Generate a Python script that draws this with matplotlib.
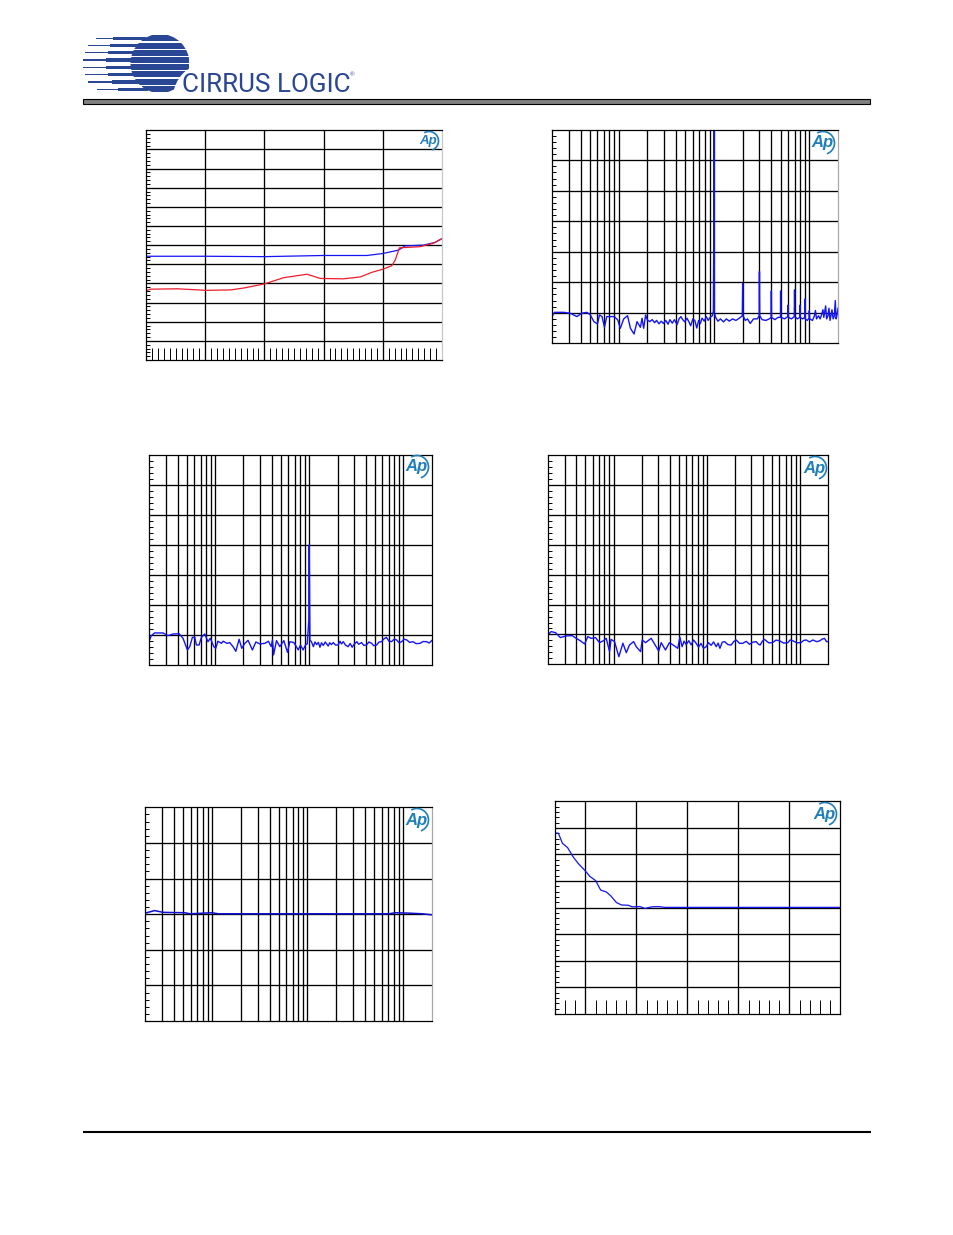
import matplotlib
matplotlib.use("Agg")
import matplotlib.pyplot as plt
from matplotlib.patches import Arc, Circle, Rectangle

W, H = 954, 1235
BLUE = "#1414f5"
RED = "#f01c2c"
LOGO_BLUE = "#2a4795"
AP_BLUE = "#1f7fb8"

# THD+N vs level
level_blue_x = [-100, -79.8, -59.9, -40, -25.4, -20.1, -14.7, -12.5, -6.3, -2.4, 0]
level_blue_y = [-82.9, -82.9, -83.0, -82.7, -82.7, -82.2, -81.3, -80.2, -80.0, -79.3, -78.3]
level_red_x = [-100, -98.4, -89.4, -79.8, -71.5, -67, -59.9, -53.5, -45.6, -41.1,
               -33.3, -27.6, -23.7, -20.1, -17, -15.8, -14.4, -7.4, -2.9, 0]
level_red_y = [-91.9, -91.5, -91.4, -91.8, -91.7, -91.2, -90.1, -88.5, -87.6, -88.7,
               -88.8, -88.3, -87.1, -86.3, -85.4, -83.9, -80.7, -80.4, -79.5, -78.3]

# FFT at 0 dB input
fft0_f = [20, 21.2, 26.5, 31, 36.5, 41, 46.5, 50.5, 55, 60, 63, 67, 71, 75, 82, 90, 98, 104,
          113, 124, 133, 145, 156, 169, 176, 183, 192, 200, 212, 225, 238, 250, 265, 280,
          295, 312, 330, 345, 365, 385, 410, 430, 450, 470, 495, 520, 545, 570, 600, 630,
          660, 690, 720, 750, 790, 830, 870, 910, 960, 985, 995, 1000, 1005, 1010, 1040, 1100, 1170,
          1260, 1350, 1450, 1560, 1700, 1850, 1980, 2000, 2020, 2130, 2250, 2400, 2600,
          2850, 2980, 3000, 3020, 3200, 3500, 3800, 3980, 4000, 4020, 4350, 4700, 4980,
          5000, 5020, 5500, 5950, 6000, 6050, 6500, 6950, 7000, 7050, 7500, 7950, 8000,
          8050, 8500, 8950, 9000, 9050, 9500, 9950, 10000, 10100, 10800, 11300, 11600,
          11900, 12500, 13000, 13500, 13900, 14200, 14840, 15200, 15700, 16080, 16500,
          17290, 17800, 18300, 18730, 19100, 19600, 20000]
fft0_db = [-122.5, -119.7, -119.7, -120.3, -122.5, -120.3, -119.7, -121.4, -125.8, -127.3,
           -121.4, -122.5, -129.5, -122.5, -122.5, -122.5, -124.7, -130.2, -124, -121.9,
           -130.2, -133.9, -125.8, -129.5, -123.6, -130.2, -121.4, -124.7, -125.8, -124.5,
           -126.5, -125, -127.2, -125.5, -127, -125, -127.5, -124.5, -126.8, -124.5, -127.8,
           -124, -122.5, -124.5, -126, -123.5, -125.8, -128.5, -124, -125, -130, -125, -127,
           -123.5, -125.5, -122.5, -125, -123, -122, -119, -70, 0, -70, -120, -123, -125.5, -124, -126,
           -124, -125.5, -124, -125, -123.5, -122, -100.7, -122, -125, -124, -127, -124,
           -124, -122, -93, -122, -124.5, -125, -124, -123, -105.7, -123, -124.5, -123,
           -123, -105.7, -123, -124, -122.5, -115, -123, -124, -122.5, -105, -122.5, -124,
           -123, -115, -123, -124, -123, -111, -124, -125, -123.5, -118.6, -124, -125, -122,
           -118.5, -124, -122, -124, -121, -118, -123, -115.5, -124, -122, -117, -125, -118,
           -124, -122, -112, -124, -121, -117]

# FFT at -60 dB input
fft60_f = [20, 21, 22.8, 28, 31.6, 35.7, 41.4, 45.6, 50.8, 53.8, 57.4, 60.8, 63.3, 67.6, 71.5,
           77.6, 84, 89, 96.8, 101.6, 107, 116.8, 121.6, 134, 143, 155, 166, 180, 192, 207,
           224, 249, 271, 299, 337, 369, 394, 407, 418, 449, 487, 537, 588, 622, 687, 764,
           808, 862, 913, 952, 990, 1000, 1010, 1017,
           1055, 1107, 1150, 1200, 1250, 1300, 1350, 1410, 1480, 1590, 1650, 1720, 1800, 1900,
           2030, 2120, 2200, 2300, 2420, 2590, 2720, 2860, 3000, 3200, 3350, 3600, 3800, 4060,
           4300, 4600, 4850, 5200, 5500, 5870, 6200, 6600, 7000, 7500, 8000, 8500, 9000, 9600,
           10200, 10900, 11700, 12600, 13700, 15000, 16200, 17700, 18800, 20000]
fft60_db = [-123.6, -120.3, -118.5, -118.5, -120.3, -119.2, -119, -122, -129.8, -127.6, -121.4,
            -121.4, -126.5, -126.5, -121.4, -119.2, -124.3, -122, -127.6, -128.7, -124, -125.4,
            -124, -125.4, -124.9, -127.6, -130.7, -122.7, -128.7, -125.4, -123.4, -129.8,
            -124.5, -125.8, -125.4, -124, -127.6, -123.2, -133.1, -123.6, -127.6, -123.6,
            -131.4, -124.3, -124.9, -129.8, -126.5, -129.8, -126.5, -125.8, -110, -60, -100,
            -123.2,
            -124.3, -127.6, -124.5, -126.2, -124.8, -128, -125, -126.8, -124.5, -127.2, -125,
            -126.2, -124.9, -126.5, -126.5, -124, -125.8, -124.3, -126.5, -127.6, -125.5, -128,
            -126, -124.3, -126, -124.9, -126.8, -126.5, -124.5, -125.4, -127, -126.5, -124.6,
            -124.3, -122.5, -121.4, -123.8, -124.3, -122.5, -123.2, -125, -124.3, -122.6,
            -123.2, -124.8, -124.3, -125.6, -125.4, -124.2, -124.3, -125.2, -123.6]

# FFT with no input
fftn_f = [20, 21.5, 23.9, 26.9, 31, 36, 39.8, 44, 49, 53, 57.6, 64, 70.8, 78, 83.5, 90.6, 94,
          102.5, 114, 126, 137, 148, 164, 175, 195, 203, 220, 253, 286, 305, 324, 360, 397,
          450, 487, 514, 543,
          570, 600, 640, 679, 720, 767, 815, 866, 920, 982, 1040, 1110, 1180, 1260, 1320, 1380,
          1460, 1550, 1680, 1820, 1940, 2060, 2240, 2430, 2640, 2860, 3100, 3370, 3550, 3720,
          3920, 4140, 4600, 5060, 5500, 5990, 6650, 7370, 7800, 8300, 9200, 10200, 10900, 11600,
          12600, 13700, 14900, 16100, 17100, 18200, 19100, 20000]
fftn_db = [-119.9, -118.1, -118.8, -122.1, -121, -120.8, -122.6, -124.2, -126.4, -121.5, -122.6,
           -122.1, -125.5, -124.2, -122.6, -131.5, -123.3, -124.8, -134.9, -125.9, -132.2,
           -127.1, -124.8, -128.2, -131.5, -123.7, -125.5, -122.6, -128.2, -131.1, -125.5,
           -130.4, -125.5, -127.7, -129.3, -121.9, -128.2,
           -124.5, -126.8, -124.2, -127, -123.7, -125.9, -128.5, -126, -129.3, -128.2, -125.5,
           -127.3, -125, -128.2, -125.8, -129.3, -125.2, -124.8, -126.8, -127.1, -124.8, -123.7,
           -126, -125.9, -124.6, -126.6, -125.2, -124.8, -126.4, -127.1, -124.6, -123.3, -125.6,
           -125.5, -123.8, -124.2, -125.8, -125.5, -123.7, -124.2, -125.6, -125.5, -124, -123.7,
           -125, -123.7, -124.8, -124.4, -123.2, -122.6, -124.8, -124.8]

# frequency response
resp_f = [20, 25, 30.8, 52, 59, 100, 116, 7100, 8300, 11200, 16000, 20000]
resp_db = [0.003, 0.010, 0.005, 0.004, 0.001, 0.004, 0.001, 0.001, 0.004, 0.003, 0.001, -0.002]

# stopband / settling trace
settle_x = [0.41, 0.47, 0.55, 0.65, 0.76, 0.86, 1, 1.09, 1.2, 1.3, 1.41, 1.5, 1.61, 1.71, 1.84,
            1.92, 2.07, 2.17, 2.3, 2.43, 2.56, 6]
settle_y = [2.81, 2.8, 2.42, 2.26, 1.91, 1.66, 1.38, 1.17, 1.02, 0.66, 0.59, 0.44, 0.19, 0.1,
            0.09, 0.03, 0.04, -0.03, 0.03, 0.04, 0.01, 0.01]

log_grid = [30, 40, 50, 60, 70, 80, 90, 100, 200, 300, 400, 500, 600, 700, 800, 900, 1000,
            2000, 3000, 4000, 5000, 6000, 7000, 8000, 9000, 10000]


def panel(fig, left, top, right, bottom):
    ax = fig.add_axes([left / W, 1 - bottom / H, (right - left) / W, (bottom - top) / H])
    ax.set_axisbelow(True)
    for s in ax.spines.values():
        s.set_linewidth(0.9)
    ax.grid(True, which="major", color="black", lw=0.95)
    ax.tick_params(which="major", length=0, labelbottom=False, labelleft=False)
    ax.tick_params(which="minor", direction="in", length=2.6, width=0.7,
                   labelbottom=False, labelleft=False)
    return ax


def y_axis(ax, low, high, step, minor):
    ax.set_ylim(low, high)
    n = round((high - low) / step)
    ax.set_yticks([low + i * step for i in range(1, n)])
    m = round((high - low) / minor)
    ax.set_yticks([low + i * minor for i in range(1, m) if i * minor % step > 1e-6
                   and step - i * minor % step > 1e-6], minor=True)


def log_axis(ax):
    ax.set_xscale("log")
    ax.set_xlim(20, 20000)
    ax.set_xticks(log_grid)
    ax.set_xticks([], minor=True)


def ap_logo(page, x, y, size, r):
    page.text(x - 1, y, "Ap", color=AP_BLUE, fontsize=size, style="italic", weight="bold",
              family="Liberation Sans", ha="center", va="center")
    page.add_patch(Arc((x, y), 2 * r, 2 * r, theta1=-120, theta2=70, color=AP_BLUE, lw=1.2))


def cirrus_logo(page):
    cx, cy, r = 160, 63.5, 29.5
    rows = [38.3, 45.7, 52.7, 60, 67.3, 74.3, 82, 89.3]
    starts = [96, 88, 85, 83, 83, 85, 88, 97]
    thick = [140, 132, 129, 128, 128, 129, 134, 142]
    mids = [113, 110, 108, 106, 106, 108, 112, 118]
    disc = Circle((cx, cy), r, transform=page.transData)
    for y, x0, x1, x2 in zip(rows, starts, mids, thick):
        page.add_patch(Rectangle((x0, y - 0.7), x1 - x0, 1.4, fc=LOGO_BLUE, ec="none"))
        page.add_patch(Rectangle((x1, y - 1.7), x2 - x1 + 6, 3.4, fc=LOGO_BLUE, ec="none"))
        bar = Rectangle((x2, y - 3.1), cx + r - x2, 6.2, fc=LOGO_BLUE, ec="none")
        page.add_patch(bar)
        bar.set_clip_path(disc)
    wedge = Circle((208, 98), 35, fc="white", ec="none")
    page.add_patch(wedge)
    wedge.set_clip_path(Rectangle((170, 60), 60, 38, transform=page.transData))
    page.text(182.5, 91.5, "CIRRUS LOGIC", color=LOGO_BLUE, fontsize=18.7, family="Roboto",
              ha="left", va="baseline")
    page.text(350, 75, "®", color=LOGO_BLUE, fontsize=4.5, family="Liberation Sans",
              ha="left", va="center")


def main():
    fig = plt.figure(figsize=(W / 100, H / 100), dpi=100)

    # THD+N vs level
    ax = panel(fig, 146, 130.3, 442, 360)
    ax.set_xlim(-100, 0)
    ax.set_xticks([-80, -60, -40, -20])
    ax.set_xticks([-100 + 2 * i for i in range(1, 50) if i % 10 != 0], minor=True)
    y_axis(ax, -110, -50, 5, 1)
    ax.tick_params(axis="x", which="minor", length=8.6)
    ax.plot(level_blue_x, level_blue_y, color=BLUE, lw=0.9)
    ax.plot(level_red_x, level_red_y, color=RED, lw=0.9)
    ax.spines["right"].set_color("#c8c8c8")

    # FFT 0 dB with harmonics
    ax = panel(fig, 552, 129.7, 838, 343.3)
    log_axis(ax)
    y_axis(ax, -140, 0, 20, 4)
    ax.plot(fft0_f, fft0_db, color=BLUE, lw=1.0)
    ax.spines["right"].set_color("#a8a8a8")

    # FFT -60 dB
    ax = panel(fig, 149.3, 454.7, 431.7, 665.3)
    log_axis(ax)
    y_axis(ax, -140, 0, 20, 4)
    ax.plot(fft60_f, fft60_db, color=BLUE, lw=1.0)

    # FFT no input
    ax = panel(fig, 548.3, 455.3, 828.3, 664.3)
    log_axis(ax)
    y_axis(ax, -140, 0, 20, 4)
    ax.plot(fftn_f, fftn_db, color=BLUE, lw=1.0)

    # frequency response
    ax = panel(fig, 145.3, 807.3, 431.7, 1021)
    log_axis(ax)
    y_axis(ax, -0.3, 0.3, 0.1, 0.02)
    ax.plot(resp_f, resp_db, color="#1010d0", lw=1.1)
    ax.spines["right"].set_color("#a8a8a8")

    # settling trace
    ax = panel(fig, 555.3, 801.3, 840.3, 1014)
    ax.set_xlim(0.41, 6)
    ax.set_xticks([1, 2, 3, 4, 5])
    ax.set_xticks([0.6 + 0.2 * i for i in range(27) if (i + 3) % 5 != 0], minor=True)
    y_axis(ax, -4, 4, 1, 0.2)
    ax.tick_params(axis="x", which="minor", length=10)
    ax.plot(settle_x, settle_y, color=BLUE, lw=0.9)

    page = fig.add_axes([0, 0, 1, 1], zorder=5)
    page.set_xlim(0, W)
    page.set_ylim(H, 0)
    page.axis("off")
    page.patch.set_visible(False)

    cirrus_logo(page)
    page.add_patch(Rectangle((83.5, 99), 787, 4.5, fc="#808080", ec="black", lw=0.8))
    page.plot([83, 871], [1132, 1132], color="black", lw=1.5, solid_capstyle="butt")

    ap_logo(page, 429, 141, 9.5, 9.5)
    ap_logo(page, 823, 143, 12, 11.5)
    ap_logo(page, 417, 467, 12, 11.5)
    ap_logo(page, 815, 468, 12, 11.5)
    ap_logo(page, 417, 820, 12, 11.5)
    ap_logo(page, 825, 814, 12, 11.5)

    fig.savefig("out.png", dpi=100)


if __name__ == "__main__":
    main()
